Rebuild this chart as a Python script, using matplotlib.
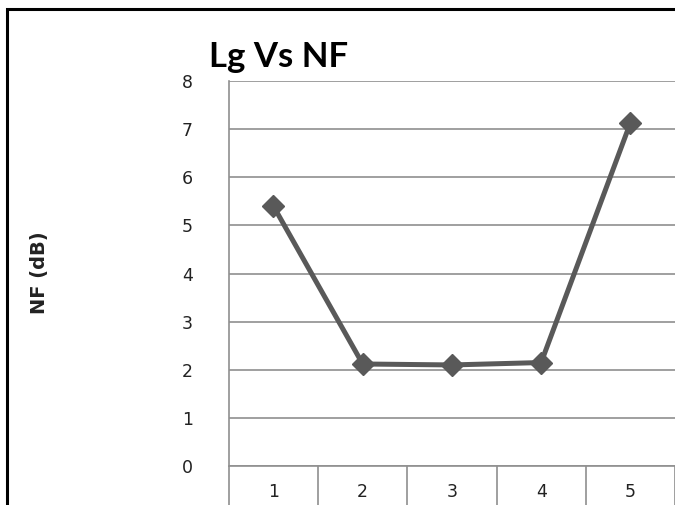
import matplotlib as mpl
mpl.use("Agg")
import matplotlib.pyplot as plt
from matplotlib.patches import Rectangle

# Lg sweep index vs noise figure
lg_points = [1, 2, 3, 4, 5]
nf_db = [5.4, 2.12, 2.1, 2.15, 7.13]
y_ticks = [0, 1, 2, 3, 4, 5, 6, 7, 8]

grid_col = "#8f8f8f"
line_col = "#595959"

fig = plt.figure(figsize=(6.75, 5.05), dpi=100)
ax = fig.add_axes([0.339, 0.0772, 0.661, 0.7624])

ax.plot(lg_points, nf_db, color=line_col, lw=3.6, marker="D", ms=11,
        markerfacecolor=line_col, markeredgecolor=line_col, zorder=3)

ax.set_xlim(0.5, 5.5)
ax.set_ylim(0, 8)
ax.set_yticks(y_ticks)
ax.set_yticklabels([str(v) for v in y_ticks], fontsize=12.5, color="#222222")
ax.tick_params(axis="y", length=0, pad=26)

# category labels sit between the boundary ticks
ax.set_xticks(lg_points)
ax.set_xticklabels([str(v) for v in lg_points], fontsize=12.5, color="#222222")
ax.set_xticks([p - 0.5 for p in lg_points] + [5.5], minor=True)
ax.tick_params(axis="x", which="major", length=0, pad=12)
ax.tick_params(axis="x", which="minor", length=30, width=1.2, color=grid_col)

ax.yaxis.grid(True, color=grid_col, lw=1.2)
ax.set_axisbelow(True)
for side in ["top", "right"]:
    ax.spines[side].set_visible(False)
for side in ["left", "bottom"]:
    ax.spines[side].set_color(grid_col)
    ax.spines[side].set_linewidth(1.2)

fig.text(0.412, 0.887, "Lg Vs NF", fontsize=25, fontweight="bold",
         family="Lato", ha="center", va="center")
fig.text(0.059, 0.46, "NF (dB)", fontsize=14, fontweight="bold",
         rotation=90, ha="center", va="center", color="#222222")

# outer frame, cut off at right and bottom
fig.patches.append(Rectangle((0.011, -0.1), 1.2, 1.082, transform=fig.transFigure,
                             fill=False, edgecolor="black", lw=2.2))

plt.savefig("out.png", dpi=100)
